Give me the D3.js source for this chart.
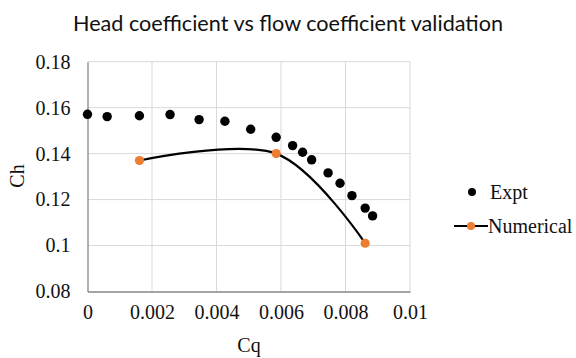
<!DOCTYPE html>
<html>
<head>
<meta charset="utf-8">
<script src="https://cdn.jsdelivr.net/npm/d3@7"></script>
<style>
  html, body { margin: 0; padding: 0; background: #fff; }
  svg { display: block; }
</style>
</head>
<body>
<svg id="chart" width="576" height="358"></svg>
<script>
// Experimental measurements (Cq, Ch)
const exptCq = [0, 0.00061, 0.00161, 0.00256, 0.00346, 0.00426, 0.00506, 0.00585, 0.00636, 0.00667, 0.00695, 0.00746, 0.00783, 0.00820, 0.00861, 0.00884];
const exptCh = [0.1571, 0.1561, 0.1565, 0.1570, 0.1548, 0.1541, 0.1506, 0.1471, 0.1435, 0.1406, 0.1373, 0.1316, 0.1271, 0.1217, 0.1163, 0.1129];

// Numerical results (Cq, Ch)
const numCq = [0.00161, 0.00585, 0.00861];
const numCh = [0.137, 0.140, 0.101];

// Axis ticks
const xTicks = [0, 0.002, 0.004, 0.006, 0.008, 0.01];
const yTicks = [0.08, 0.1, 0.12, 0.14, 0.16, 0.18];
const xTickLabels = ["0", "0.002", "0.004", "0.006", "0.008", "0.01"];
const yTickLabels = ["0.08", "0.1", "0.12", "0.14", "0.16", "0.18"];

const svg = d3.select("#chart");
const plot = { left: 87.5, right: 410, top: 61.7, bottom: 291.5 };

const x = d3.scaleLinear().domain([0, 0.01]).range([plot.left, plot.right]);
const y = d3.scaleLinear().domain([0.08, 0.18]).range([plot.bottom, plot.top]);

const serif = "'Liberation Serif', 'Times New Roman', serif";

// Title
svg.append("text")
  .attr("x", 288).attr("y", 30.5)
  .attr("text-anchor", "middle")
  .attr("font-family", "Lato, 'Open Sans', sans-serif")
  .attr("font-size", 21)
  .attr("fill", "#111")
  .attr("textLength", 430)
  .attr("lengthAdjust", "spacingAndGlyphs")
  .text("Head coefficient vs flow coefficient validation");

// Gridlines
const grid = svg.append("g");
grid.selectAll("line.v").data(xTicks.slice(1)).join("line")
  .attr("x1", d => x(d)).attr("x2", d => x(d))
  .attr("y1", plot.top).attr("y2", plot.bottom)
  .attr("stroke", "#d9d9d9").attr("stroke-width", 1);
grid.selectAll("line.h").data(yTicks.slice(1)).join("line")
  .attr("x1", plot.left).attr("x2", plot.right)
  .attr("y1", d => y(d)).attr("y2", d => y(d))
  .attr("stroke", "#d9d9d9").attr("stroke-width", 1);

// Axes
const xAxis = d3.axisBottom(x).tickValues(xTicks).tickSize(0).tickPadding(13)
  .tickFormat((d, i) => xTickLabels[i]);
const yAxis = d3.axisLeft(y).tickValues(yTicks).tickSize(0).tickPadding(17)
  .tickFormat((d, i) => yTickLabels[i]);

const gx = svg.append("g").attr("transform", `translate(0,${plot.bottom})`).call(xAxis);
const gy = svg.append("g").attr("transform", `translate(${plot.left},0)`).call(yAxis);
[gx, gy].forEach(g => {
  g.select(".domain").attr("stroke", "#868686").attr("stroke-width", 1.3);
  g.selectAll("text")
    .attr("font-family", serif)
    .attr("font-size", 20)
    .attr("fill", "#111");
});

// Axis titles
svg.append("text")
  .attr("x", 249).attr("y", 352)
  .attr("text-anchor", "middle")
  .attr("font-family", serif).attr("font-size", 20).attr("fill", "#111")
  .text("Cq");
svg.append("text")
  .attr("transform", "translate(24,176) rotate(-90)")
  .attr("text-anchor", "middle")
  .attr("font-family", serif).attr("font-size", 20).attr("fill", "#111")
  .text("Ch");

// Numerical smoothed line
const numData = numCq.map((c, i) => [c, numCh[i]]);
const line = d3.line().x(d => x(d[0])).y(d => y(d[1])).curve(d3.curveCardinal.tension(0));
svg.append("path")
  .datum(numData)
  .attr("d", line)
  .attr("fill", "none")
  .attr("stroke", "#000")
  .attr("stroke-width", 2.2);

// Experimental points
const exptData = exptCq.map((c, i) => [c, exptCh[i]]);
svg.append("g").selectAll("circle").data(exptData).join("circle")
  .attr("cx", d => x(d[0])).attr("cy", d => y(d[1]))
  .attr("r", 4.7).attr("fill", "#000");

// Numerical points
svg.append("g").selectAll("circle").data(numData).join("circle")
  .attr("cx", d => x(d[0])).attr("cy", d => y(d[1]))
  .attr("r", 4.6).attr("fill", "#ed7d31");

// Legend
const legend = svg.append("g");
legend.append("circle").attr("cx", 472).attr("cy", 192).attr("r", 4).attr("fill", "#000");
legend.append("text").attr("x", 490).attr("y", 199)
  .attr("font-family", serif).attr("font-size", 20).attr("fill", "#111").text("Expt");
legend.append("line").attr("x1", 454).attr("x2", 488).attr("y1", 226).attr("y2", 226)
  .attr("stroke", "#000").attr("stroke-width", 2.2);
legend.append("circle").attr("cx", 471).attr("cy", 226).attr("r", 4).attr("fill", "#ed7d31");
legend.append("text").attr("x", 488).attr("y", 233)
  .attr("font-family", serif).attr("font-size", 20).attr("fill", "#111").text("Numerical");
</script>
</body>
</html>
